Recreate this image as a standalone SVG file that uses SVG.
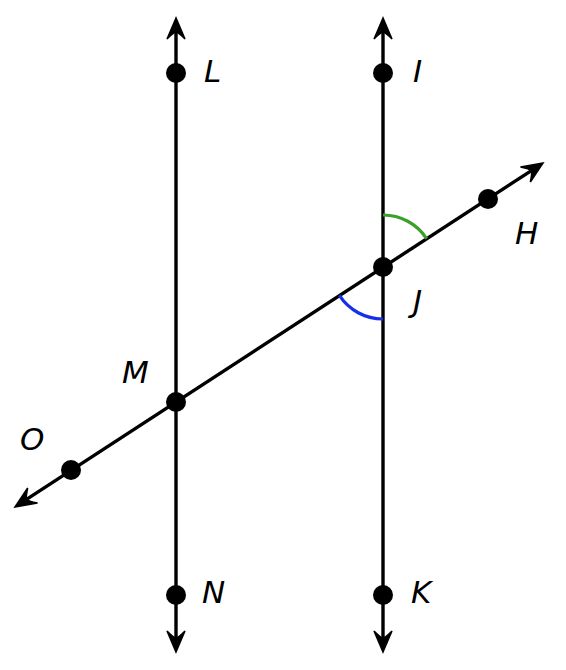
<svg xmlns="http://www.w3.org/2000/svg" width="566" height="670" viewBox="0 0 566 670">
<style>
.ln{stroke:#000;stroke-width:3.4;fill:none}
.pt{fill:#000}
.lb{font-family:"DejaVu Sans",Verdana,sans-serif;font-style:italic;font-size:31px;fill:#000}
.arc{fill:none;stroke-width:3.2}
</style>
<defs>
<marker id="ah" markerUnits="userSpaceOnUse" markerWidth="30" markerHeight="30" viewBox="-24 -15 30 30" refX="-6" refY="0" orient="auto-start-reverse">
<path d="M0,0 L-21,-9 Q-14,-2 -14,0 Q-14,2 -21,9 Z" fill="#000" stroke="#000" stroke-width="1.5" stroke-linejoin="miter"/>
</marker>
</defs>
<rect x="0" y="0" width="566" height="670" fill="#fff"/>
<g id="connectors">
<line class="ln" x1="176" y1="24" x2="176" y2="646" marker-start="url(#ah)" marker-end="url(#ah)"/>
<line class="ln" x1="383" y1="24" x2="383" y2="646" marker-start="url(#ah)" marker-end="url(#ah)"/>
<line class="ln" x1="20" y1="503.7" x2="538" y2="166.3" marker-start="url(#ah)" marker-end="url(#ah)"/>
<path id="angle-green" class="arc" stroke="#3c9f2c" d="M383,215 A52,52 0 0 1 426.6,238.6"/>
<path id="angle-blue" class="arc" stroke="#1530e8" d="M339.4,295.4 A52,52 0 0 0 383,319"/>
</g>
<g id="L"><circle class="pt" cx="176" cy="73" r="10"/><text class="lb" x="204" y="82">L</text></g>
<g id="I"><circle class="pt" cx="383" cy="73" r="10"/><text class="lb" x="413" y="82">I</text></g>
<g id="J"><circle class="pt" cx="383" cy="267" r="10"/><text class="lb" x="413" y="312">J</text></g>
<g id="H"><circle class="pt" cx="488" cy="199" r="10"/><text class="lb" x="515" y="244">H</text></g>
<g id="M"><circle class="pt" cx="176" cy="402" r="10"/><text class="lb" x="122" y="383">M</text></g>
<g id="O"><circle class="pt" cx="71" cy="470" r="10"/><text class="lb" x="20" y="450">O</text></g>
<g id="N"><circle class="pt" cx="176" cy="595" r="10"/><text class="lb" x="202" y="603">N</text></g>
<g id="K"><circle class="pt" cx="383" cy="595" r="10"/><text class="lb" x="411" y="603">K</text></g>
</svg>
